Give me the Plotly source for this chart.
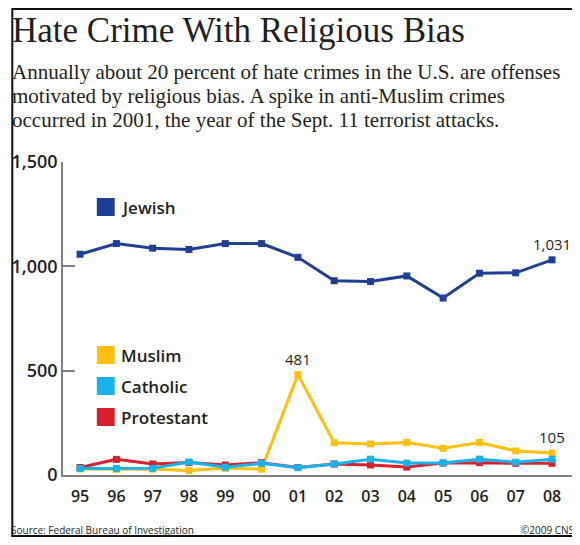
import plotly.graph_objects as go

# data (FBI hate crime incidents by religious bias)
years = ["95", "96", "97", "98", "99", "00", "01", "02", "03", "04", "05", "06", "07", "08"]
jewish = [1058, 1109, 1087, 1081, 1109, 1109, 1043, 931, 927, 954, 848, 967, 969, 1031]
muslim = [29, 27, 28, 21, 32, 28, 481, 155, 149, 156, 128, 156, 115, 105]
catholic = [31, 32, 32, 62, 37, 56, 35, 53, 76, 57, 58, 76, 61, 75]
protestant = [36, 75, 53, 60, 48, 59, 36, 53, 48, 38, 57, 59, 56, 56]

y_ticks = [0, 500, 1000, 1500]

title = "Hate Crime With Religious Bias"
subtitle_lines = [
    "Annually about 20 percent of hate crimes in the U.S. are offenses",
    "motivated by religious bias. A spike in anti-Muslim crimes",
    "occurred in 2001, the year of the Sept. 11 terrorist attacks.",
]

BLUE = "#1f3f94"
YELLOW = "#fdc010"
CYAN = "#1bb1ea"
RED = "#d91f2a"
INK = "#231f20"

# the page body has an 8px margin; keep the figure inside the window
OFF = 8
W, H = 580 - OFF, 545 - 2 * OFF
L, R, T = 60 - OFF, 4, 162 - OFF
B = H - (475 - OFF)
PW, PH = W - L - R, H - T - B


# positions below are given in window pixels of the reference picture
def px(x):
    return (x - OFF - L) / PW


def py(y):
    return (H - B - (y - OFF)) / PH


SANS = "Open Sans"
SERIF = "Liberation Serif"

fig = go.Figure()

# draw order: yellow under red under cyan, blue on its own
series = [
    ("Muslim", muslim, YELLOW),
    ("Protestant", protestant, RED),
    ("Catholic", catholic, CYAN),
    ("Jewish", jewish, BLUE),
]
for name, vals, col in series:
    fig.add_trace(go.Scatter(
        x=years, y=vals, name=name, mode="lines+markers",
        line=dict(color=col, width=3),
        marker=dict(symbol="square", size=7, color=col),
        cliponaxis=False, showlegend=False,
    ))

# hand-made legend: coloured squares + labels
legend_items = [("Jewish", BLUE, 207), ("Muslim", YELLOW, 355),
                ("Catholic", CYAN, 386), ("Protestant", RED, 417)]
shapes = []
annotations = []
for name, col, cy in legend_items:
    shapes.append(dict(type="rect", xref="paper", yref="paper",
                       x0=px(94), x1=px(112), y0=py(cy + 9), y1=py(cy - 9),
                       fillcolor=col, line=dict(width=0)))
    annotations.append(dict(text=name, xref="paper", yref="paper",
                            x=px(116), y=py(cy), xanchor="left", yanchor="middle",
                            showarrow=False,
                            font=dict(family=SANS, size=17, weight=600, color=INK)))

# value call-outs (x given as category index)
for idx, vals in [(13, jewish), (6, muslim), (13, muslim)]:
    annotations.append(dict(text=f"{vals[idx]:,}", x=idx, y=vals[idx],
                            xref="x", yref="y", yshift=16, yanchor="middle",
                            showarrow=False,
                            font=dict(family=SANS, size=15, color=INK)))

# headline
annotations.append(dict(text=title, xref="paper", yref="paper",
                        x=px(7), y=py(8.5), xanchor="left", yanchor="top",
                        showarrow=False,
                        font=dict(family=SERIF, size=35, color=INK)))

# subtitle, one annotation per line to keep the line spacing
for i, line in enumerate(subtitle_lines):
    annotations.append(dict(
        text=line, xref="paper", yref="paper", x=px(7), y=py(72 + 24 * i),
        xanchor="left", yanchor="middle", align="left", showarrow=False,
        font=dict(family=SERIF, size=21, color=INK)))

# footer
annotations.append(dict(text="Source: Federal Bureau of Investigation",
                        xref="paper", yref="paper", x=px(6), y=py(529.5),
                        xanchor="left", yanchor="middle", showarrow=False,
                        font=dict(family=SANS, size=10, color=INK)))
annotations.append(dict(text="©2009 CNS", xref="paper", yref="paper",
                        x=px(576), y=py(529.5), xanchor="right", yanchor="middle",
                        showarrow=False,
                        font=dict(family=SANS, size=10, color=INK)))

# outer frame
shapes.append(dict(type="rect", xref="paper", yref="paper",
                   x0=px(OFF + 1), x1=px(579), y0=py(H + OFF - 1), y1=py(OFF + 1),
                   line=dict(color="#111", width=2)))

fig.update_layout(
    width=W, height=H,
    margin=dict(l=L, r=R, t=T, b=B),
    paper_bgcolor="white", plot_bgcolor="white",
    xaxis=dict(type="category", range=[-0.47, 13.66], showline=True,
               linecolor="#808080", linewidth=1.5, showgrid=False, ticks="",
               tickfont=dict(family=SANS, size=16, weight=600, color=INK),
               ticklabelstandoff=6),
    yaxis=dict(range=[0, 1500], tickvals=y_ticks, tickformat=",", showline=True,
               linecolor="#808080", linewidth=1.5, showgrid=False, zeroline=False,
               ticks="inside", ticklen=12, tickwidth=1.5, tickcolor="#808080",
               tickfont=dict(family=SANS, size=18, weight=600, color=INK)),
    shapes=shapes, annotations=annotations,
)

fig.write_html("out.html")
